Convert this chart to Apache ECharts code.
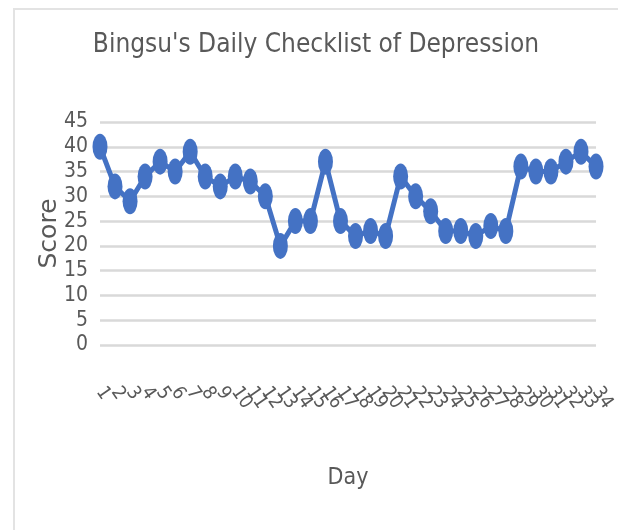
<!DOCTYPE html>
<html>
<head>
<meta charset="utf-8">
<script src="https://cdn.jsdelivr.net/npm/echarts@6/dist/echarts.min.js"></script>
<style>
  html, body { margin: 0; padding: 0; background: #fff; }
  #frame { position: absolute; left: 13px; top: 8px; width: 605px; height: 522px;
           border-top: 2px solid #e3e3e3; border-left: 2px solid #e3e3e3; }
  #chart { position: absolute; left: 0; top: 0; width: 618px; height: 530px; }
</style>
</head>
<body>
<div id="frame"></div>
<div id="chart"></div>
<script>
// day labels and scores
const days = [];
for (let d = 1; d <= 34; d++) days.push(String(d));
const scores = [40, 32, 29, 34, 37, 35, 39, 34, 32, 34, 33, 30, 20, 25, 25, 37, 25,
                22, 23, 22, 34, 30, 27, 23, 23, 22, 24, 23, 36, 35, 35, 37, 39, 36];
const yTicks = { min: 0, max: 45, step: 5 };

const narrow = "'Liberation Sans Narrow', 'DejaVu Sans Condensed', 'Roboto', sans-serif";
const grey = '#595959';

const chart = echarts.init(document.getElementById('chart'), null, { renderer: 'canvas' });
chart.setOption({
  backgroundColor: 'transparent',
  animation: false,
  title: {
    text: "Bingsu's Daily Checklist of Depression",
    left: 316,
    textAlign: 'center',
    top: 32,
    padding: 0,
    textStyle: { fontFamily: narrow, fontSize: 26, fontWeight: 'normal', color: grey }
  },
  grid: { left: 100, right: 19, top: 122, bottom: 185 },
  xAxis: {
    type: 'category',
    data: days,
    boundaryGap: false,
    name: 'Day',
    nameLocation: 'middle',
    nameGap: 122,
    nameMoveOverlap: false,
    nameTextStyle: { fontFamily: narrow, fontSize: 23, color: grey },
    axisLine: { show: false },
    axisTick: { show: false },
    axisLabel: {
      interval: 0,
      rotate: -55,
      margin: 44,
      fontFamily: narrow,
      fontSize: 19,
      color: grey
    }
  },
  yAxis: {
    type: 'value',
    min: yTicks.min,
    max: yTicks.max,
    interval: yTicks.step,
    name: 'Score',
    nameLocation: 'middle',
    nameGap: 38,
    nameMoveOverlap: false,
    nameTextStyle: { fontFamily: "'DejaVu Sans', sans-serif", fontSize: 25, color: grey },
    axisLine: { show: false },
    axisTick: { show: false },
    axisLabel: { margin: 12, fontFamily: narrow, fontSize: 21, color: grey },
    splitLine: { lineStyle: { color: '#d9d9d9', width: 2.5 } }
  },
  series: [{
    type: 'line',
    data: scores,
    symbol: 'circle',
    symbolSize: [15, 26],
    lineStyle: { color: '#4472C4', width: 5 },
    itemStyle: { color: '#4472C4' }
  }]
});
</script>
</body>
</html>
